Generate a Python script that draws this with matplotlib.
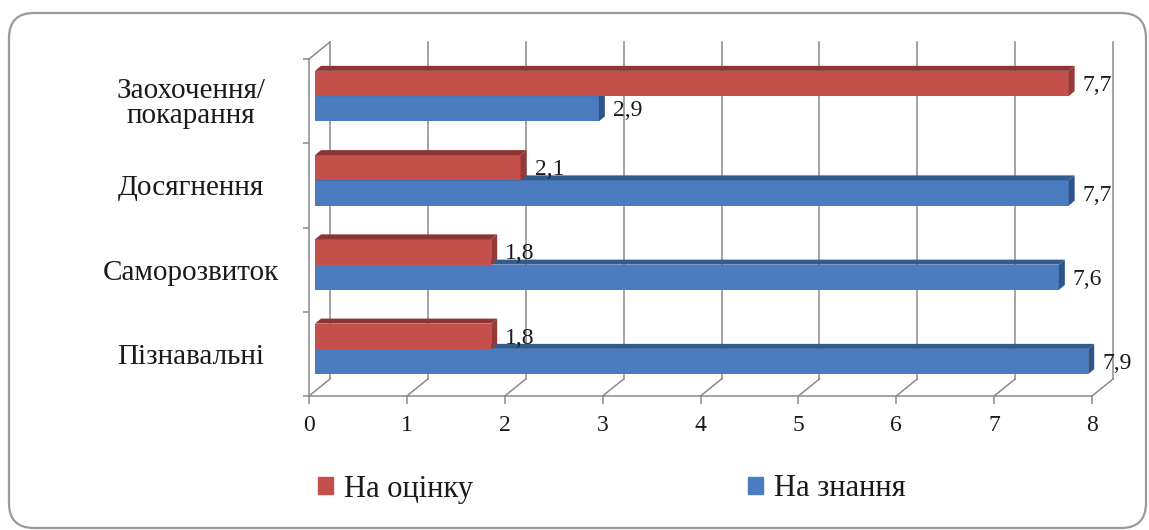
import matplotlib
matplotlib.use("Agg")
import matplotlib.pyplot as plt
from matplotlib.patches import Polygon, Patch, FancyBboxPatch
from matplotlib.lines import Line2D
from matplotlib.transforms import offset_copy, IdentityTransform

SERIF = ['Liberation Serif', 'DejaVu Serif']
plt.rcParams['font.family'] = SERIF

# Data
categories = ["Пізнавальні", "Саморозвиток", "Досягнення", "Заохочення/\nпокарання"]
grade_vals = [1.8, 1.8, 2.1, 7.7]      # На оцінку
know_vals = [7.9, 7.6, 7.7, 2.9]       # На знання
series_names = ["На оцінку", "На знання"]
xticks = list(range(9))

# colours: front face, top face, end face
RED = ("#c4504c", "#8c3633", "#973a37")
BLUE = ("#4a7cbf", "#325c8e", "#2d5589")
GRID = "#8a8a8a"
TXT = "#1a1a1a"

W, H = 1149, 530
fig = plt.figure(figsize=(W / 100, H / 100), dpi=100)
ax = fig.add_axes([309 / W, (H - 396) / H, 783 / W, 337 / H])
ax.set_xlim(0, 8)
ax.set_ylim(-0.5, 3.5)
ax.set_autoscale_on(False)
ax.patch.set_visible(False)

# pseudo-3D depth offsets, in pixels
DX, DY = 21, 17      # back wall
BX, BY = 6, 5        # bar thickness
back = offset_copy(ax.transData, fig=fig, x=DX, y=DY, units='dots')
bar_t = offset_copy(ax.transData, fig=fig, x=BX, y=BY, units='dots')
lab_t = offset_copy(ax.transData, fig=fig, x=20, y=3, units='dots')
pix = IdentityTransform()


def depth_line(x, y):
    px, py = ax.transData.transform((x, y))
    ax.add_line(Line2D([px, px + DX], [py, py + DY], transform=pix,
                       color=GRID, lw=1.1, clip_on=False, zorder=1))


# back wall gridlines and floor diagonals
for k in xticks:
    ax.plot([k, k], [-0.5, 3.5], transform=back, color=GRID, lw=1.1,
            clip_on=False, zorder=1)
    depth_line(k, -0.5)
depth_line(0, 3.5)

# axes lines
for s in ("top", "right"):
    ax.spines[s].set_visible(False)
for s in ("bottom", "left"):
    ax.spines[s].set_color(GRID)
    ax.spines[s].set_linewidth(1.1)

ax.set_xticks(xticks)
ax.set_xticklabels([str(k) for k in xticks])
ax.tick_params(axis='x', length=6, width=1.1, color=GRID, pad=8,
               labelsize=17, labelcolor=TXT)
ax.set_yticks([-0.5, 0.5, 1.5, 2.5, 3.5])
ax.set_yticklabels([])
ax.tick_params(axis='y', which='major', length=4, width=1.1, color=GRID)
ax.set_yticks(range(len(categories)), categories, minor=True)
ax.tick_params(axis='y', which='minor', length=0, pad=85, labelsize=21,
               labelcolor=TXT)
for lbl in ax.get_yticklabels(minor=True):
    lbl.set_ha('center')
    lbl.set_linespacing(0.92)
    if "\n" in lbl.get_text():
        lbl.set_va('center_baseline')

# bars with top and end faces
h = 0.3
for vals, off, cols in [(know_vals, -0.15, BLUE), (grade_vals, 0.15, RED)]:
    ypos = [i + off for i in range(len(vals))]
    rects = ax.barh(ypos, vals, height=h, color=cols[0], transform=bar_t,
                    clip_on=False, zorder=3)
    for r in rects:
        (x0, y0), (x1, y1) = bar_t.transform(
            [(r.get_x(), r.get_y()),
             (r.get_x() + r.get_width(), r.get_y() + r.get_height())])
        ax.add_patch(Polygon([(x0, y1), (x1, y1), (x1 + BX, y1 + BY),
                              (x0 + BX, y1 + BY)], closed=True,
                             transform=pix, fc=cols[1], ec='none',
                             clip_on=False, zorder=3))
        ax.add_patch(Polygon([(x1, y0), (x1 + BX, y0 + BY),
                              (x1 + BX, y1 + BY), (x1, y1)], closed=True,
                             transform=pix, fc=cols[2], ec='none',
                             clip_on=False, zorder=3))
    for y, v in zip(ypos, vals):
        ax.text(v, y, f"{v:.1f}".replace(".", ","), transform=lab_t,
                ha='left', va='center', fontsize=17, color=TXT, zorder=4)

# legend
handles = [Patch(color=RED[0]), Patch(color=BLUE[0])]
fig.legend(handles, series_names, ncol=2, loc='center left',
           bbox_to_anchor=(318 / W, (H - 489) / H), frameon=False,
           handlelength=0.5, handleheight=0.5, handletextpad=0.35,
           columnspacing=9.0, borderpad=0, borderaxespad=0,
           prop={'family': SERIF, 'size': 22}, labelcolor=TXT)

# rounded chart frame
fig.patches.append(FancyBboxPatch((9, 2), 1137, 515,
                                  boxstyle='round,pad=0,rounding_size=25',
                                  transform=pix, fc='none', ec='#9a9a9a',
                                  lw=1.6, figure=fig))

fig.savefig("out.png", dpi=100)
